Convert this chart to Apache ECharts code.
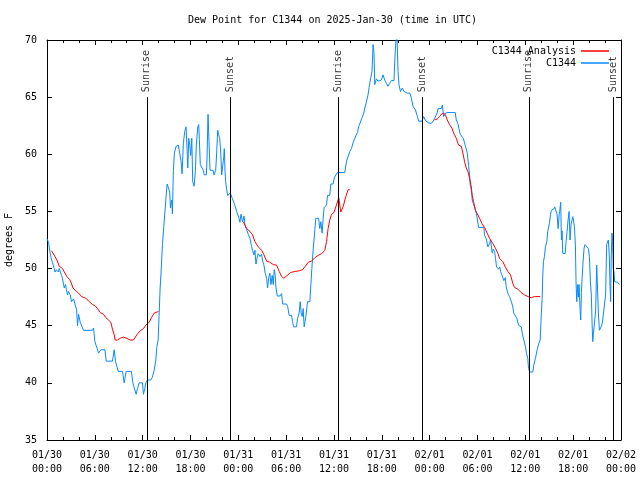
<!DOCTYPE html>
<html>
<head>
<meta charset="utf-8">
<script src="https://cdn.jsdelivr.net/npm/echarts@6/dist/echarts.min.js"></script>
<style>html,body{margin:0;padding:0;background:#fff}#c{width:640px;height:480px}</style>
</head>
<body>
<div id="c"></div>
<script>
// hours since 2025-01-30 00:00 UTC
const xTickLabels = ['01/30\n00:00','01/30\n06:00','01/30\n12:00','01/30\n18:00','01/31\n00:00','01/31\n06:00','01/31\n12:00','01/31\n18:00','02/01\n00:00','02/01\n06:00','02/01\n12:00','02/01\n18:00','02/02\n00:00'];

const obsTimes = [0,0.2,0.29,0.5,0.7,0.91,1.0,1.16,1.41,1.54,1.75,1.83,1.95,2.17,2.33,2.42,2.58,2.67,2.92,3.08,3.33,3.54,3.71,3.83,3.96,4.17,4.58,5.71,5.84,6.01,6.34,6.46,6.76,7.26,7.43,8.21,8.43,8.59,8.93,9.47,9.68,9.93,10.59,10.77,11.02,11.18,11.35,11.56,11.97,12.10,12.27,12.40,12.60,13.02,13.22,13.44,13.65,13.77,13.94,
14.06,14.19,14.31,14.48,14.65,14.81,14.98,15.07,15.23,15.40,15.48,15.65,15.73,15.85,15.98,16.19,16.48,16.69,16.82,16.94,17.11,17.28,17.44,17.57,17.66,17.78,17.91,18.03,18.16,18.28,18.45,18.61,18.73,18.91,19.03,19.11,19.23,19.48,19.61,19.73,19.99,20.07,20.20,20.32,20.45,20.66,20.82,20.95,21.16,21.29,21.41,21.54,21.66,21.79,21.91,22.04,22.16,22.24,22.33,22.41,22.54,22.66,22.99,23.24,23.49,23.79,24.08,24.20,
24.33,24.54,24.71,24.83,25.04,25.24,25.46,25.67,25.79,25.96,26.08,26.21,26.37,26.50,26.71,26.92,27.05,27.21,27.37,27.55,27.67,27.80,27.96,28.09,28.25,28.38,28.50,28.63,28.71,28.88,29.21,29.43,29.55,30.05,30.18,30.38,30.68,30.80,30.93,31.30,31.43,31.63,31.76,31.88,32.01,32.13,32.26,32.47,32.68,32.97,33.10,33.22,33.38,33.60,33.72,34.06,34.22,34.35,34.51,34.64,34.76,35.06,35.19,35.47,35.60,35.89,36.06,
36.44,37.35,37.57,37.77,37.98,38.19,38.39,38.61,38.73,38.94,39.11,39.36,39.52,39.73,39.86,40.07,40.27,40.40,40.61,40.77,40.90,41.02,41.11,41.32,41.52,41.74,41.95,42.15,42.36,42.57,42.77,42.98,43.19,43.53,43.61,43.74,43.90,44.03,44.15,44.33,44.58,44.78,44.99,45.20,45.41,45.53,45.71,45.91,46.03,46.21,46.46,46.62,46.83,47.03,47.25,47.46,47.71,47.87,48.21,48.54,48.79,48.96,49.04,49.46,49.59,49.66,49.75,49.96,50.09,51.21,51.34,51.54,51.67,51.84,52.09,52.22,52.47,52.63,52.72,52.88,53.01,53.09,53.22,53.34,53.47,53.63,53.72,53.97,54.13,54.80,54.88,55.10,55.30,55.51,55.64,55.72,55.85,55.97,56.14,56.26,56.39,56.64,56.80,56.89,57.05,57.18,57.30,57.48,57.60,57.80,58.01,58.23,58.43,58.55,58.73,58.93,59.14,59.48,59.61,59.81,60.02,60.14,60.31,60.40,60.56,60.94,61.06,61.27,61.48,61.68,61.86,61.98,62.11,62.19,62.27,62.40,62.52,62.69,62.81,63.02,63.15,63.27,63.56,63.69,63.86,63.99,64.11,64.24,64.31,64.44,64.53,64.61,64.69,64.99,65.11,65.24,65.36,65.49,65.61,65.74,65.86,65.94,66.03,66.15,66.28,66.36,66.45,66.57,66.66,66.74,66.87,66.95,67.03,67.12,67.24,67.37,67.49,67.74,67.91,68.04,68.16,68.28,68.37,68.45,68.53,68.70,68.82,68.95,69.03,69.16,69.29,69.45,69.58,69.70,69.95,70.07,70.20,70.32,70.41,70.53,70.62,70.70,70.78,70.87,70.95,71.03,71.12,71.20,71.37,71.57,71.70,71.82];

const obsValues = [52.6,52.3,51.8,50.95,50.5,50.0,49.7,49.9,49.7,50.0,50.1,49.4,49.1,48.3,48.6,48.2,47.7,48.0,47.7,47.1,47.35,47.25,46.4,45.0,46.0,45.3,44.6,44.6,44.8,43.6,42.9,42.6,42.9,42.9,41.9,41.9,42.9,41.9,41.0,41.0,40.0,41.0,41.0,40.0,40.0,39.0,39.5,40.0,40.0,39.0,39.5,40.0,40.25,40.25,40.5,41.1,42.0,43.1,43.75,
45.9,48.3,49.7,52.1,53.7,55.1,56.7,57.4,57.4,56.7,55.3,56.0,54.8,58.6,60.1,60.7,60.8,60.8,59.35,58.3,61.0,62.0,62.4,60.5,58.8,61.4,60.8,59.9,61.4,57.6,57.2,58.5,60.8,62.4,62.6,61.3,59.1,59.1,58.6,58.2,58.2,59.6,63.5,61.1,58.6,58.7,58.6,58.2,58.6,60.2,62.1,61.7,61.4,60.2,58.2,59.0,59.7,60.5,58.5,57.6,56.9,56.4,56.6,56.15,55.7,55.0,54.4,54.05,
54.75,54.1,54.6,53.8,53.4,53.0,52.65,51.9,51.6,51.2,51.6,50.4,51.0,51.3,51.05,51.25,50.65,50.3,49.6,49.15,48.3,49.15,49.6,48.6,49.4,48.6,49.9,49.4,48.4,47.6,47.6,47.8,46.9,46.9,46.7,45.9,45.9,45.35,44.9,44.9,45.65,46.1,47.1,46.1,45.8,46.5,44.9,45.8,47.1,47.1,48.6,50.0,51.6,53.4,54.4,54.4,53.5,54.1,53.1,54.4,55.35,55.55,56.4,56.4,57.4,57.4,58.0,
58.4,58.4,59.4,59.5,60.25,60.5,61.0,61.0,61.6,61.9,62.45,62.6,63.2,63.6,64.05,64.6,65.2,65.85,66.7,67.25,69.6,68.8,66.1,66.6,66.4,66.25,66.5,66.95,66.5,66.2,65.95,66.2,66.45,66.45,68.0,69.7,70.5,67.25,66.1,65.5,65.8,65.5,65.65,65.35,65.5,65.35,64.9,64.2,64.2,63.9,63.3,62.9,63.05,62.9,63.3,62.95,63.1,62.75,62.7,63.0,63.0,63.65,64.0,64.0,64.3,64.35,63.3,63.3,63.65,63.65,63.0,62.7,62.25,61.75,61.75,61.4,60.75,60.7,60.1,59.0,58.2,57.3,56.9,56.0,55.7,55.85,55.25,54.4,53.6,53.6,52.95,52.6,51.9,52.2,52.5,52.05,51.35,51.7,51.5,50.9,50.15,49.95,50.15,49.75,49.45,49.2,48.95,49.2,48.4,47.85,47.55,47.15,46.65,46.1,45.95,45.65,45.05,44.9,44.35,43.75,43.15,42.6,42.15,41.25,40.95,40.95,41.55,42.15,42.9,43.4,43.75,45.65,47.4,49.45,50.6,51.05,51.9,52.35,53.25,53.95,54.7,55.1,55.2,55.4,55.4,54.7,53.5,54.7,55.0,55.8,52.5,53.3,51.35,51.3,52.35,53.25,54.25,55.0,52.5,53.9,54.25,54.55,54.25,53.7,52.05,48.85,47.1,48.6,47.5,48.6,46.4,45.5,47.9,49.15,50.6,51.8,52.1,51.95,51.75,51.05,48.85,47.7,45.35,43.6,44.2,44.2,46.3,50.3,48.8,46.2,44.6,44.5,45.0,45.5,45.5,47.7,52.1,52.05,52.5,51.2,48.55,47.1,51.2,53.1,52.35,50.0,49.7,48.85,48.85,48.8,48.7,48.6];

// analysis (null = gap)
const anaTimes = [0.58,0.79,1.25,1.54,1.95,2.17,2.50,2.83,3.01,3.26,3.63,3.96,4.33,4.88,5.30,5.71,6.01,6.34,6.67,7.09,7.39,7.71,8.01,8.21,8.43,8.55,8.84,9.18,9.59,10.02,10.43,10.84,11.27,11.68,12.10,12.40,12.81,13.10,13.44,13.98,
19.0,
24.62,25.04,25.46,25.79,26.08,26.50,26.92,27.21,27.55,27.96,28.38,28.80,29.13,29.43,29.71,30.13,30.55,31.09,31.63,32.06,32.34,32.76,33.18,33.60,34.01,34.44,34.85,35.06,35.26,35.47,35.69,35.98,36.23,36.51,36.60,36.85,37.14,37.48,37.77,37.98,
43.0,
48.62,48.96,49.25,49.46,49.79,50.0,50.21,50.50,50.79,51.04,51.34,51.63,51.97,52.17,52.38,52.59,52.79,53.01,53.22,53.34,53.51,53.72,53.97,54.26,54.55,54.88,55.22,55.51,55.92,56.26,56.55,56.76,57.18,57.48,57.80,58.14,58.43,58.64,59.06,59.48,59.89,60.31,60.73,61.15,61.86];
const anaValues = [51.55,51.5,50.75,50.2,50.0,49.7,49.3,49.05,48.8,48.3,48.05,47.85,47.55,47.4,47.1,46.85,46.75,46.5,46.15,46.0,45.7,45.5,45.3,44.7,44.2,43.75,43.75,43.9,44.0,43.9,43.75,43.75,44.2,44.55,44.75,45.05,45.3,45.7,46.1,46.25,
null,
54.1,53.5,53.25,52.95,52.35,51.9,51.6,51.2,50.65,50.55,50.35,50.3,49.75,49.3,49.15,49.4,49.65,49.75,49.8,49.9,50.15,50.55,50.65,50.95,51.15,51.3,51.6,52.35,53.5,54.25,54.75,54.9,55.4,56.0,56.2,54.95,55.4,56.3,56.9,56.9,
null,
63.0,63.1,63.3,63.5,63.6,63.4,63.0,62.6,62.3,61.8,61.4,60.8,60.7,60.1,59.35,58.8,58.5,57.9,57.15,56.4,55.85,55.1,54.8,54.4,53.95,53.6,53.1,52.65,52.2,51.75,51.35,50.9,50.6,50.15,49.75,49.45,48.7,48.35,48.2,47.9,47.7,47.55,47.45,47.55,47.55];

const sunTimes = [12.52, 23.04, 36.51, 47.08, 60.43, 71.07];
const sunLabels = ['Sunrise','Sunset','Sunrise','Sunset','Sunrise','Sunset'];
const sunLineBottom = 35, sunLineTop = 65;

const FONT = 'DejaVu Sans Mono';
const obsData = obsTimes.map((t,i)=>[t, obsValues[i]]);
const anaData = anaTimes.map((t,i)=>[t, anaValues[i]]);
const sunData = sunTimes.map((t,i)=>[t, sunLineTop, sunLabels[i]]);

const chart = echarts.init(document.getElementById('c'), null, {renderer:'canvas'});
const txt = {fontFamily: FONT, fontSize: 10, color: '#000'};
chart.setOption({
  animation: false,
  backgroundColor: '#fff',
  title: {text: 'Dew Point for C1344 on 2025-Jan-30 (time in UTC)', left: 188, top: 15, padding: 0,
    textStyle: {fontFamily: FONT, fontSize: 10, fontWeight: 'normal', color: '#000'}},
  legend: [
    {data: ['C1344 Analysis'], right: 31, top: 46, padding: 0, align: 'right', icon: 'rect', itemWidth: 28, itemHeight: 1.5, itemGap: 0, textStyle: txt, selectedMode: false},
    {data: ['C1344'], right: 31, top: 58, padding: 0, align: 'right', icon: 'rect', itemWidth: 28, itemHeight: 1.5, itemGap: 0, textStyle: txt, selectedMode: false}
  ],
  grid: {left: 47, right: 19, top: 40, bottom: 40, containLabel: false, outerBoundsMode: 'none'},
  xAxis: [
    {type: 'value', min: 0, max: 72, interval: 6, position: 'bottom',
     axisLine: {show: true, onZero: false, lineStyle: {color: '#000', width: 1}},
     axisTick: {show: true, inside: true, length: 5, lineStyle: {color: '#000'}},
     minorTick: {show: true, splitNumber: 3, length: 3, lineStyle: {color: '#000'}},
     splitLine: {show: false},
     axisLabel: {...txt, margin: 8, lineHeight: 14, formatter: v => xTickLabels[Math.round(v/6)]}},
    {type: 'value', min: 0, max: 72, interval: 6, position: 'top',
     axisLine: {show: true, onZero: false, lineStyle: {color: '#000', width: 1}},
     axisTick: {show: true, inside: true, length: 5, lineStyle: {color: '#000'}},
     minorTick: {show: true, splitNumber: 3, length: 3, lineStyle: {color: '#000'}},
     splitLine: {show: false}, axisLabel: {show: false}}
  ],
  yAxis: [
    {type: 'value', min: 35, max: 70, interval: 5, position: 'left',
     name: 'degrees F', nameLocation: 'middle', nameGap: 32, nameRotate: 90, nameTextStyle: txt,
     axisLine: {show: true, onZero: false, lineStyle: {color: '#000', width: 1}},
     axisTick: {show: true, inside: true, length: 5, lineStyle: {color: '#000'}},
     splitLine: {show: false},
     axisLabel: {...txt, margin: 10}},
    {type: 'value', min: 35, max: 70, interval: 5, position: 'right',
     axisLine: {show: true, onZero: false, lineStyle: {color: '#000', width: 1}},
     axisTick: {show: true, inside: true, length: 5, lineStyle: {color: '#000'}},
     splitLine: {show: false}, axisLabel: {show: false}}
  ],
  series: [
    {name: 'C1344 Analysis', type: 'line', data: anaData, showSymbol: false, symbol: 'none', connectNulls: false,
     color: '#ff0000', lineStyle: {color: '#ff0000', width: 1}, z: 3},
    {name: 'C1344', type: 'line', data: obsData, showSymbol: false, symbol: 'none',
     color: '#0a88ff', lineStyle: {color: '#0a88ff', width: 1}, z: 2},
    {name: 'sun', type: 'scatter', data: sunData, symbolSize: 0, silent: true, z: 4,
     label: {show: true, formatter: p => p.value[2], position: 'top', distance: 5, rotate: 90,
       align: 'left', verticalAlign: 'middle', ...txt},
     markLine: {silent: true, symbol: ['none','none'], animation: false,
       lineStyle: {color: '#000', width: 1, type: 'solid'}, label: {show: false},
       data: sunTimes.map(t => [{coord: [t, sunLineBottom]}, {coord: [t, sunLineTop]}])}}
  ]
});
</script>
</body>
</html>
